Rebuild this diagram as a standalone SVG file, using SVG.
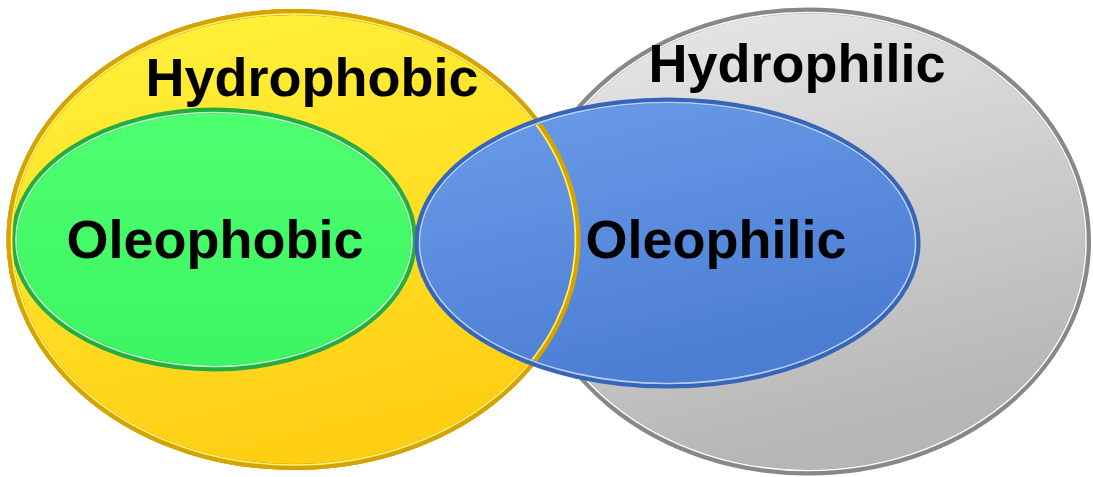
<svg xmlns="http://www.w3.org/2000/svg" xmlns:xlink="http://www.w3.org/1999/xlink" width="1093" height="477" viewBox="0 0 1093 477">
  <defs>
    <linearGradient id="gYellow" x1="0" y1="0" x2="0.3" y2="1">
      <stop offset="0" stop-color="#FFF43C"/>
      <stop offset="1" stop-color="#FFCF14"/>
    </linearGradient>
    <linearGradient id="gGray" x1="0" y1="0" x2="0.3" y2="1">
      <stop offset="0" stop-color="#EAEAEA"/>
      <stop offset="1" stop-color="#B6B6B6"/>
    </linearGradient>
    <linearGradient id="gGreen" x1="0" y1="0" x2="0" y2="1">
      <stop offset="0" stop-color="#4EFF70"/>
      <stop offset="1" stop-color="#3CF562"/>
    </linearGradient>
    <linearGradient id="gBlue" x1="0" y1="0" x2="0.4" y2="1">
      <stop offset="0" stop-color="#6C9DEA"/>
      <stop offset="1" stop-color="#4B7DD3"/>
    </linearGradient>
    <style>
      .lbl { font-family: "Liberation Sans", Arial, sans-serif; font-weight: bold; font-size: 54px; fill: #000; text-anchor: middle; }
      .hl { fill: none; stroke-width: 1.6; }
    </style>
  </defs>

  <g id="hydrophilic">
    <ellipse cx="808" cy="241.5" rx="280" ry="231" fill="url(#gGray)" stroke="#888888" stroke-width="6"/>
    <ellipse cx="808" cy="241.5" rx="278" ry="229" class="hl" stroke="#FFFFFF" stroke-opacity="0.95"/>
    <text class="lbl" x="797" y="82">Hydrophilic</text>
  </g>

  <g id="hydrophobic">
    <ellipse cx="293.5" cy="239.5" rx="284" ry="227.5" fill="url(#gYellow)" stroke="#D6A400" stroke-width="6"/>
    <ellipse id="yRing" cx="293.5" cy="239.5" rx="284" ry="227.5" fill="none" stroke="#D6A400" stroke-width="6"/>
    <ellipse id="yHl" cx="293.5" cy="239.5" rx="282" ry="225.5" class="hl" stroke="#FFF27A"/>
    <text class="lbl" x="312" y="96">Hydrophobic</text>
  </g>

  <g id="oleophobic">
    <ellipse cx="214" cy="239.5" rx="200" ry="129" fill="url(#gGreen)" stroke="#24AE42" stroke-width="6"/>
    <ellipse cx="214" cy="239.5" rx="198" ry="127" class="hl" stroke="#C8FFD2" stroke-opacity="0.9"/>
    <text class="lbl" x="215" y="258">Oleophobic</text>
  </g>

  <g id="oleophilic">
    <ellipse cx="667.5" cy="243" rx="250" ry="142.5" fill="url(#gBlue)"/>
    <use xlink:href="#yRing"/>
    <use xlink:href="#yHl"/>
    <ellipse cx="667.5" cy="243" rx="250" ry="142.5" fill="none" stroke="#3766B8" stroke-width="6"/>
    <ellipse cx="667.5" cy="243" rx="248" ry="140.5" class="hl" stroke="#C6DCFF" stroke-opacity="0.9"/>
    <text class="lbl" x="716" y="258">Oleophilic</text>
  </g>

  <g id="connectors"></g>
</svg>
